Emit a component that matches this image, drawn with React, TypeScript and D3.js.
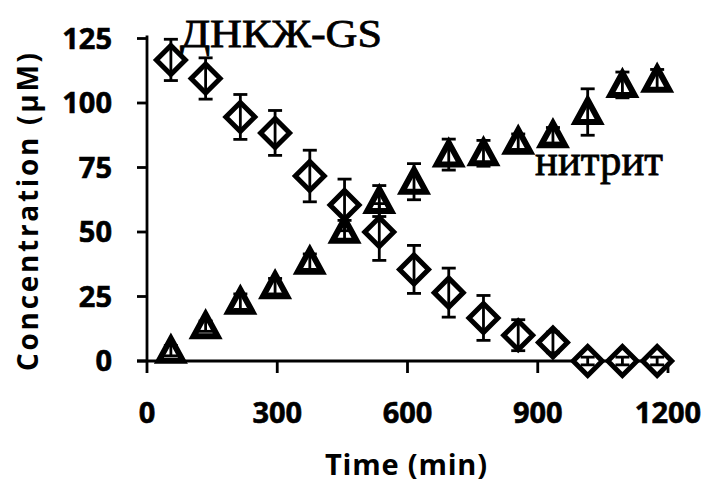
import React, { useRef, useEffect } from 'react';
import * as d3 from 'd3';

// time points (min)
const times = [55, 135, 215, 295, 375, 455, 535, 615, 695, 775, 855, 935, 1015, 1095, 1175];
// ДНКЖ-GS (diamonds)
const dnicValues = [116.7, 109.5, 94.6, 88.4, 71.7, 60.5, 50, 35.5, 26.5, 16.7, 10, 7.2, 0, 0, 0];
const dnicErrors = [8, 8, 8.7, 8.7, 10, 10, 11, 9.3, 9.5, 8.7, 6, 4, 1.5, 1.5, 1.5];
// нитрит (triangles)
const nitriteValues = [4, 13.5, 23, 29, 38.5, 50.5, 62, 69.5, 80, 80.5, 85, 87.5, 96.5, 107, 109];
const nitriteErrors = [2, 2, 3, 3, 3, 4, 6, 7, 6, 5, 3, 3, 9, 5, 4];

const xTicks = [0, 300, 600, 900, 1200];
const yTicks = [0, 25, 50, 75, 100, 125];

const App = () => {
  const ref = useRef(null);

  useEffect(() => {
    document.body.style.margin = '0';
    const svg = d3.select(ref.current);
    svg.selectAll('*').remove();

    const x = d3.scaleLinear().domain([0, 1200]).range([147, 668]);
    const y = d3.scaleLinear().domain([0, 125]).range([361, 38.5]);
    const sans = "'Open Sans', sans-serif";
    const serif = "'Liberation Serif', 'Times New Roman', serif";

    // axes
    const axes = svg.append('g').attr('stroke', '#000').attr('stroke-width', 2.8);
    axes.append('line').attr('x1', x(0)).attr('x2', x(0)).attr('y1', y(125) - 3).attr('y2', y(0) + 12);
    axes.append('line').attr('x1', x(0) - 10).attr('x2', x(1200)).attr('y1', y(0)).attr('y2', y(0));
    yTicks.forEach(t => {
      axes.append('line').attr('x1', x(0) - 10).attr('x2', x(0)).attr('y1', y(t)).attr('y2', y(t));
    });
    xTicks.slice(1).forEach(t => {
      axes.append('line').attr('x1', x(t)).attr('x2', x(t)).attr('y1', y(0)).attr('y2', y(0) + 12);
    });

    svg.append('g').selectAll('text').data(yTicks).join('text')
      .attr('x', 112).attr('y', d => y(d) + 10)
      .attr('text-anchor', 'end').attr('font-family', sans).attr('font-weight', 700)
      .attr('font-size', 29).attr('stroke', '#000').attr('stroke-width', 0.6).text(d => d);

    svg.append('g').selectAll('text').data(xTicks).join('text')
      .attr('x', d => x(d)).attr('y', 423)
      .attr('text-anchor', 'middle').attr('font-family', sans).attr('font-weight', 700)
      .attr('font-size', 29).attr('stroke', '#000').attr('stroke-width', 0.6).text(d => d);

    svg.append('text').attr('x', 406).attr('y', 475).attr('text-anchor', 'middle')
      .attr('font-family', sans).attr('font-weight', 700).attr('font-size', 29)
      .attr('textLength', 162).text('Time (min)');

    svg.append('text').attr('transform', 'translate(38,212) rotate(-90)').attr('text-anchor', 'middle')
      .attr('font-family', sans).attr('font-weight', 700).attr('font-size', 28)
      .attr('textLength', 318).text('Concentration (μM)');

    const drawSeries = (vals, errs, shape, sw) => {
      const g = svg.append('g');
      const pts = times.map((t, i) => ({ t, v: vals[i], e: errs[i] }));
      g.selectAll('path.m').data(pts).join('path').attr('class', 'm')
        .attr('d', shape)
        .attr('transform', d => `translate(${x(d.t)},${y(d.v)})`)
        .attr('fill', '#fff').attr('stroke', '#000').attr('stroke-width', sw)
        .attr('stroke-linejoin', 'miter');
      const eb = g.selectAll('g.eb').data(pts).join('g').attr('class', 'eb')
        .attr('stroke', '#000').attr('stroke-width', 2.8);
      eb.append('line').attr('x1', d => x(d.t)).attr('x2', d => x(d.t))
        .attr('y1', d => y(d.v + d.e)).attr('y2', d => y(d.v - d.e));
      eb.append('line').attr('x1', d => x(d.t) - 7).attr('x2', d => x(d.t) + 7)
        .attr('y1', d => y(d.v + d.e)).attr('y2', d => y(d.v + d.e));
      eb.append('line').attr('x1', d => x(d.t) - 7).attr('x2', d => x(d.t) + 7)
        .attr('y1', d => y(d.v - d.e)).attr('y2', d => y(d.v - d.e));
    };

    drawSeries(nitriteValues, nitriteErrors, 'M0,-12L12,10L-12,10Z', 6);
    drawSeries(dnicValues, dnicErrors, 'M0,-14.5L14.5,0L0,14.5L-14.5,0Z', 5);

    svg.append('text').attr('x', 180).attr('y', 47).attr('font-family', serif)
      .attr('font-size', 41).attr('stroke', '#000').attr('stroke-width', 0.8)
      .attr('textLength', 202).attr('lengthAdjust', 'spacingAndGlyphs').text('ДНКЖ-GS');
    svg.append('text').attr('x', 535).attr('y', 175).attr('font-family', serif)
      .attr('font-size', 44).attr('stroke', '#000').attr('stroke-width', 0.8)
      .attr('textLength', 128).attr('lengthAdjust', 'spacingAndGlyphs').text('нитрит');
  }, []);

  return <svg ref={ref} width={708} height={491} style={{ display: 'block', background: '#fff' }} />;
};

export default App;
